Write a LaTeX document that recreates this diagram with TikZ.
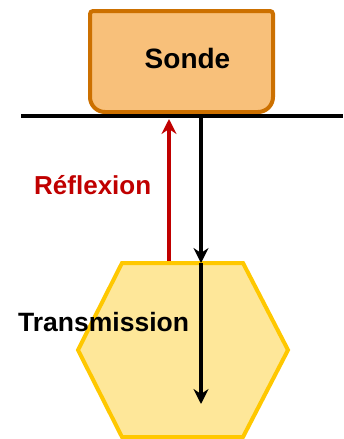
\documentclass[tikz,border=0pt]{standalone}
\usepackage{fontspec}
\setmainfont{Liberation Sans}
\usetikzlibrary{arrows.meta}
\definecolor{sondefill}{HTML}{F8C07A}
\definecolor{sondeline}{HTML}{CC7000}
\definecolor{hexfill}{HTML}{FEE799}
\definecolor{hexline}{HTML}{FFC800}
\definecolor{redarrow}{HTML}{C00000}
\tikzset{
  sondebox/.style={fill=sondefill,draw=sondeline,line width=4pt},
  hexbox/.style={fill=hexfill,draw=hexline,line width=4pt,line join=miter},
  ray/.style={line width=4pt,-{Stealth[length=15pt,width=15pt,inset=5pt]}},
  lbl/.style={inner sep=0pt,anchor=base west,font=\bfseries}
}
\begin{document}
\begin{tikzpicture}[x=1pt,y=-1pt]
\useasboundingbox (0,0) rectangle (343,439);
% probe
\draw[sondebox] (90,14) -- (90,97) arc(180:90:15) -- (258,112) arc(90:0:15)
  -- (273,14) arc(0:-90:3) -- (93,11) arc(-90:-180:3) -- cycle;
\node[inner sep=0pt,anchor=base,font=\bfseries\fontsize{28}{30}\selectfont] (sonde) at (187.5,68.5) {Sonde};
% interface line
\coordinate (lineL) at (21,116);
\coordinate (lineR) at (343,116);
\draw[line width=4pt] (lineL) -- (lineR);
% hexagon
\draw[hexbox] (122,263) -- (243,263) -- (288,350) -- (243,437) -- (122,437) -- (78,350) -- cycle;
% arrows
\coordinate (rbot) at (169,261);
\coordinate (rtop) at (169,119);
\coordinate (btop) at (201,118);
\coordinate (bmid) at (201,263);
\coordinate (bend) at (201,404);
\draw[ray,redarrow] (rbot) -- (rtop);
\draw[ray] (btop) -- (bmid);
\draw[ray] (bmid) -- (bend);
% labels
\node[lbl,text=redarrow,font=\bfseries\fontsize{26}{28}\selectfont] (refl) at (34,194) {Réflexion};
\node[lbl,font=\bfseries\fontsize{26.5}{28}\selectfont] (trans) at (18,331) {Transmission};
\end{tikzpicture}
\end{document}
